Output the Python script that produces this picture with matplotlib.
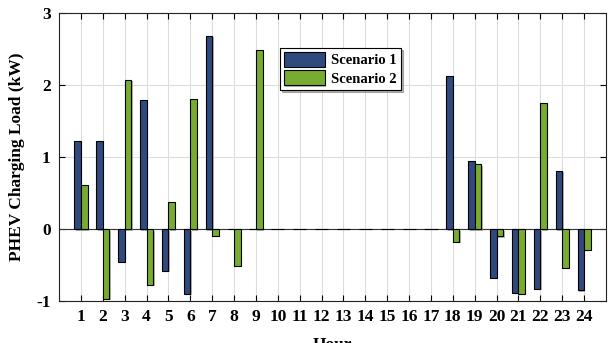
import numpy as np
import matplotlib
matplotlib.use("Agg")
import matplotlib.pyplot as plt
import matplotlib.patheffects as pe

plt.rcParams['font.family'] = ['Liberation Serif', 'DejaVu Serif']
plt.rcParams['font.weight'] = 'bold'
plt.rcParams['axes.unicode_minus'] = False

hours = list(range(1, 25))
scenario1 = [1.23, 1.22, -0.45, 1.79, -0.58, -0.90, 2.68, 0.0, 0.0, 0, 0, 0, 0, 0, 0, 0, 0,
             2.12, 0.94, -0.68, -0.88, -0.83, 0.81, -0.85]
scenario2 = [0.61, -0.97, 2.07, -0.77, 0.37, 1.80, -0.09, -0.51, 2.48, 0, 0, 0, 0, 0, 0, 0, 0,
             -0.18, 0.90, -0.10, -0.90, 1.745, -0.54, -0.29]
labels = ['Scenario 1', 'Scenario 2']
colors = ['#2E4A7E', '#77AC30']

fig = plt.figure(figsize=(6.09, 3.43), dpi=100)
ax = fig.add_axes([0.097, 0.122, 0.898, 0.840])

x = np.array(hours)
w = 0.3
shadow = [pe.SimplePatchShadow(offset=(1, -1), shadow_rgbFace='gray', alpha=0.6), pe.Normal()]
b1 = ax.bar(x - w / 2, scenario1, w, color=colors[0], edgecolor='black', linewidth=0.8,
            label=labels[0], zorder=3)
b2 = ax.bar(x + w / 2, scenario2, w, color=colors[1], edgecolor='black', linewidth=0.8,
            label=labels[1], zorder=3)
for b in list(b1) + list(b2):
    b.set_path_effects(shadow)

ax.axhline(0, color='#333333', linewidth=0.8, zorder=2)
ax.set_xlim(0, 25)
ax.set_ylim(-1, 3)
ax.set_xticks(hours)
ax.set_yticks([-1, 0, 1, 2, 3])
ax.grid(True, color='#dddddd', linewidth=0.8, zorder=0)
ax.set_axisbelow(True)
ax.tick_params(direction='in', top=True, right=True, labelsize=12.5, length=4, width=0.8, pad=6)
for s in ax.spines.values():
    s.set_linewidth(0.8)
    s.set_color('#222222')

ax.set_xlabel('Hour', fontsize=12.5, fontweight='bold', labelpad=8)
ax.set_ylabel('PHEV Charging Load (kW)', fontsize=12.5, fontweight='bold', labelpad=8)

leg = ax.legend(loc='upper left', bbox_to_anchor=(0.390, 0.905), fontsize=10.5,
                fancybox=False, shadow={'ox': 1.5, 'oy': -1.5, 'color': 'gray', 'alpha': 0.6},
                edgecolor='black', framealpha=1,
                handlelength=2.8, handleheight=1.2, borderpad=0.3, labelspacing=0.2,
                handletextpad=0.4)
leg.get_frame().set_linewidth(0.8)

fig.savefig('out.png', dpi=100)
